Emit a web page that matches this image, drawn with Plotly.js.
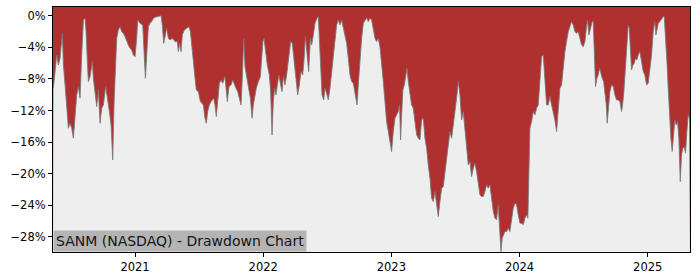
<!DOCTYPE html>
<html>
<head>
<meta charset="utf-8">
<script src="https://cdn.plot.ly/plotly-3.0.1.min.js"></script>
<style>html,body{margin:0;padding:0;background:#fff;}#chart{width:700px;height:280px;}</style>
</head>
<body>
<div id="chart"></div>
<script>
// Decimal-year positions of the sampled drawdown readings
const years = [
2020.363,2020.376,2020.389,2020.402,2020.415,2020.433,2020.441,2020.454,2020.467,2020.480,
2020.493,2020.506,2020.519,2020.532,2020.545,2020.558,2020.571,2020.584,2020.597,2020.610,
2020.618,2020.628,2020.636,2020.649,2020.667,2020.675,2020.688,2020.701,2020.714,2020.727,
2020.740,2020.753,2020.771,2020.784,2020.800,2020.813,2020.826,2020.836,2020.847,2020.857,
2020.870,2020.883,2020.896,2020.909,2020.922,2020.935,2020.948,2020.961,2020.974,2020.987,
2021.000,2021.013,2021.021,2021.039,2021.060,2021.073,2021.081,2021.091,2021.104,2021.117,
2021.130,2021.143,
2021.156,2021.203,2021.213,2021.224,2021.234,2021.247,2021.260,2021.273,2021.291,2021.312,
2021.330,2021.338,2021.348,2021.359,2021.369,2021.385,2021.403,2021.421,2021.432,2021.447,
2021.463,2021.478,2021.494,2021.510,2021.520,2021.533,2021.546,2021.556,2021.567,2021.580,
2021.593,2021.603,2021.614,2021.624,2021.634,2021.645,2021.658,2021.671,2021.684,2021.702,
2021.712,2021.720,2021.733,2021.749,2021.762,2021.775,2021.788,2021.801,2021.816,2021.827,
2021.837,2021.848,2021.858,2021.871,2021.884,2021.900,2021.913,2021.923,2021.936,2021.946,
2021.962,2021.978,2021.988,2021.998,
2022.006,2022.019,2022.032,2022.048,2022.058,2022.069,2022.079,2022.089,2022.100,2022.110,
2022.123,2022.136,2022.147,2022.157,2022.170,2022.183,2022.199,2022.214,2022.227,2022.240,
2022.251,2022.261,2022.269,2022.282,2022.295,2022.308,2022.318,2022.329,2022.342,2022.355,
2022.368,2022.378,2022.391,2022.404,2022.420,2022.430,2022.438,2022.448,2022.459,2022.472,
2022.482,2022.495,2022.508,2022.521,2022.534,2022.547,2022.560,2022.573,2022.586,2022.599,
2022.612,2022.625,2022.638,2022.651,2022.664,2022.677,2022.690,2022.703,2022.719,2022.732,
2022.742,2022.755,2022.768,2022.781,
2022.794,2022.807,2022.820,2022.833,2022.846,2022.859,2022.872,2022.885,2022.898,2022.911,
2022.924,2022.937,2022.950,2022.963,2022.976,2022.989,2023.002,2023.015,2023.028,2023.041,
2023.054,2023.064,2023.072,2023.080,2023.090,2023.101,2023.111,2023.122,2023.132,2023.145,
2023.158,2023.171,2023.184,2023.197,2023.210,2023.223,2023.236,2023.249,2023.262,2023.275,
2023.288,2023.301,2023.314,2023.327,2023.340,2023.353,2023.366,2023.379,2023.392,2023.405,
2023.418,2023.431,2023.444,2023.457,2023.470,2023.483,2023.496,2023.509,2023.522,2023.535,
2023.548,2023.561,2023.574,2023.587,2023.600,
2023.613,2023.626,2023.639,2023.652,2023.665,2023.678,2023.691,2023.704,2023.717,2023.730,
2023.743,2023.756,2023.769,2023.782,2023.795,2023.808,2023.821,2023.834,2023.847,2023.855,
2023.865,2023.873,2023.886,2023.899,2023.912,2023.925,2023.938,2023.951,2023.964,2023.977,
2023.990,2024.003,2024.016,2024.029,2024.042,2024.055,2024.065,2024.073,2024.081,2024.094,
2024.107,2024.120,2024.133,2024.146,2024.159,2024.172,2024.185,2024.198,2024.211,2024.224,
2024.237,2024.250,2024.263,2024.276,2024.289,2024.302,2024.315,2024.328,2024.341,2024.354,
2024.367,2024.380,2024.393,2024.406,2024.419,
2024.432,2024.445,2024.458,2024.471,2024.484,2024.497,2024.510,2024.523,2024.531,2024.541,
2024.554,2024.567,2024.575,2024.583,2024.593,2024.604,2024.614,2024.625,2024.635,2024.645,
2024.656,2024.666,2024.677,2024.684,2024.692,2024.705,2024.718,2024.731,2024.744,2024.757,
2024.770,2024.783,2024.796,2024.804,2024.814,2024.827,2024.838,2024.848,2024.856,2024.864,
2024.874,2024.885,2024.895,2024.905,2024.916,2024.926,2024.939,2024.952,2024.965,2024.978,
2024.991,2025.004,2025.017,2025.030,2025.043,2025.056,2025.064,2025.074,2025.082,2025.095,
2025.108,2025.121,2025.129,2025.139,2025.150,2025.160,2025.170,2025.181,2025.191,2025.202,
2025.212,2025.222,2025.233,2025.243,2025.254,2025.264,2025.274,2025.285,2025.295,2025.306,
2025.316,2025.324
];
// Drawdown from running peak, in percent
const drawdown = [
-9.19,-6.86,-4.97,-6.23,-5.39,-2.23,-6.23,-8.76,-11.29,-14.24,
-13.61,-14.24,-15.50,-12.55,-10.02,-8.97,-10.44,-4.97,-0.54,-0.33,
-2.02,-5.81,-8.34,-7.71,-5.81,-7.92,-9.61,-11.51,-9.40,-13.61,
-11.71,-11.29,-8.97,-10.24,-12.13,-13.82,-18.24,-11.29,-5.39,-2.86,
-1.81,-1.39,-2.02,-2.23,-2.65,-3.28,-3.71,-4.13,-4.34,-4.97,
-5.18,-2.86,-0.54,-0.97,-1.18,-5.39,-7.92,-4.97,-1.39,-0.97,
-0.75,-0.33,
-0.20,0.00,-1.20,-3.50,-2.65,-1.60,-2.86,-3.07,-2.86,-3.28,
-3.28,-4.55,-3.50,-4.55,-2.44,-1.81,-1.60,-1.39,-2.02,-4.13,
-7.07,-9.40,-9.61,-10.87,-11.08,-11.29,-12.97,-13.60,-12.13,-11.29,
-10.87,-10.66,-10.44,-11.29,-12.76,-10.87,-8.55,-8.13,-8.55,-7.71,
-9.19,-10.87,-8.97,-8.76,-8.13,-8.76,-9.19,-9.61,-10.44,-11.29,
-7.92,-2.86,-6.44,-7.50,-8.97,-10.44,-12.97,-11.29,-10.02,-9.19,
-8.34,-7.71,-5.39,-3.28,
-2.86,-4.97,-6.23,-7.50,-9.61,-15.08,-10.87,-9.19,-10.02,-8.76,
-7.50,-8.76,-9.61,-7.71,-8.76,-7.50,-5.39,-3.28,-3.50,-5.39,
-6.65,-8.76,-10.02,-8.76,-7.07,-7.50,-5.81,-2.65,-4.97,-7.07,
-2.86,-3.71,-2.44,-0.97,-0.33,-0.12,-2.86,-6.23,-10.02,-10.66,
-9.19,-9.82,-10.66,-9.19,-7.07,-4.97,-2.86,-1.18,-0.54,-1.18,
-0.54,-1.60,-2.44,-3.50,-5.39,-7.50,-8.34,-8.55,-10.02,-11.29,
-8.76,-5.39,-2.86,-0.97,
-0.54,-0.25,-0.75,-0.33,-0.54,-1.60,-2.86,-3.28,-2.86,-3.92,
-5.81,-8.34,-10.87,-13.40,-14.66,-15.71,-17.19,-14.66,-12.97,-12.55,
-12.13,-11.29,-15.71,-12.55,-9.40,-8.76,-7.50,-6.65,-8.34,-10.02,
-11.29,-11.71,-13.40,-15.08,-15.50,-15.71,-13.19,-12.97,-15.50,-16.77,
-18.88,-20.57,-23.10,-23.52,-22.25,-23.72,-25.41,-23.52,-21.82,-21.61,
-19.72,-18.45,-16.35,-14.66,-15.50,-13.40,-12.13,-10.44,-8.34,-10.02,
-13.19,-12.13,-14.66,-17.19,-18.88,
-18.45,-20.35,-19.30,-18.66,-19.72,-21.40,-22.67,-22.88,-22.88,-22.25,
-21.40,-21.82,-21.40,-23.10,-24.77,-25.62,-25.83,-23.93,-28.14,-29.83,
-28.14,-27.72,-27.30,-27.30,-26.88,-27.30,-26.04,-24.35,-23.72,-23.93,
-25.20,-26.25,-26.25,-26.46,-25.62,-25.20,-25.62,-17.61,-14.24,-13.40,
-12.13,-12.55,-11.71,-11.29,-8.34,-5.18,-4.97,-8.76,-11.29,-11.29,
-10.24,-11.29,-12.13,-13.19,-14.66,-11.29,-9.19,-8.76,-6.23,-4.55,
-3.28,-2.02,-1.39,-0.75,-1.18,
-2.02,-2.23,-2.02,-2.86,-3.71,-3.92,-3.28,-1.39,-0.54,-2.44,
-1.39,-0.75,-0.75,-4.97,-8.97,-7.92,-7.50,-6.65,-7.50,-7.92,
-8.34,-9.61,-11.29,-13.61,-11.71,-9.61,-8.76,-8.97,-10.02,-10.66,
-10.66,-10.87,-12.13,-11.29,-9.61,-5.81,-2.86,-1.18,-1.60,-4.55,
-6.86,-6.23,-6.02,-5.39,-5.60,-4.97,-4.55,-5.81,-7.07,-7.50,
-8.76,-8.55,-7.07,-4.97,-2.02,-0.75,-2.44,-1.60,-0.97,-0.75,
-0.33,-0.12,-0.12,-2.44,-5.81,-9.19,-12.55,-15.50,-17.19,-15.50,
-13.19,-13.82,-13.40,-15.50,-20.99,-17.61,-16.77,-16.56,-17.40,-14.66,
-12.55,-12.97
];
const xTickVals = [2021, 2022, 2023, 2024, 2025];
const xTickText = ['2021', '2022', '2023', '2024', '2025'];
const yTickVals = [0, -4, -8, -12, -16, -20, -24, -28];
const yTickText = ['0%', '\u22124%', '\u22128%', '\u221212%', '\u221216%', '\u221220%', '\u221224%', '\u221228%'];
const xRange = [2020.36, 2025.33];
const yRange = [-29.9, 1.1];
const chartLabel = 'SANM (NASDAQ) - Drawdown Chart';

const RED = '#b03030';
const GREY_BG = '#eeeeee';
const tickFont = {family: 'DejaVu Sans, sans-serif', size: 11.5, color: '#000'};

// Bottom edge of the plot, used as the base the grey area is filled up to the drawdown line from.
const base = {
  x: [xRange[0], xRange[1]], y: [yRange[0], yRange[0]],
  type: 'scatter', mode: 'lines', line: {width: 0, color: GREY_BG}, hoverinfo: 'skip'
};
const trace = {
  x: years, y: drawdown, type: 'scatter', mode: 'lines',
  fill: 'tonexty', fillcolor: GREY_BG,
  line: {color: 'rgba(120,120,120,0.85)', width: 1},
  hoverinfo: 'skip'
};

const axisCommon = {
  showgrid: false, zeroline: false, showline: true, mirror: true,
  linecolor: '#000', linewidth: 1, ticks: 'outside', ticklen: 4,
  tickcolor: '#000', tickwidth: 1, tickfont: tickFont
};

const layout = {
  width: 700, height: 280,
  margin: {l: 53, r: 10, t: 7, b: 28, pad: 0},
  paper_bgcolor: '#ffffff', plot_bgcolor: RED,
  showlegend: false,
  xaxis: Object.assign({}, axisCommon, {range: xRange, tickmode: 'array', tickvals: xTickVals, ticktext: xTickText}),
  yaxis: Object.assign({}, axisCommon, {range: yRange, tickmode: 'array', tickvals: yTickVals, ticktext: yTickText}),
  annotations: [{
    text: chartLabel, xref: 'paper', yref: 'paper', x: 0, y: 0,
    xanchor: 'left', yanchor: 'bottom', showarrow: false,
    bgcolor: '#b4b4b4', borderpad: 2,
    font: {family: 'DejaVu Sans, sans-serif', size: 14, color: '#151515'}
  }]
};

Plotly.newPlot('chart', [base, trace], layout, {displayModeBar: false, staticPlot: true});
</script>
</body>
</html>
